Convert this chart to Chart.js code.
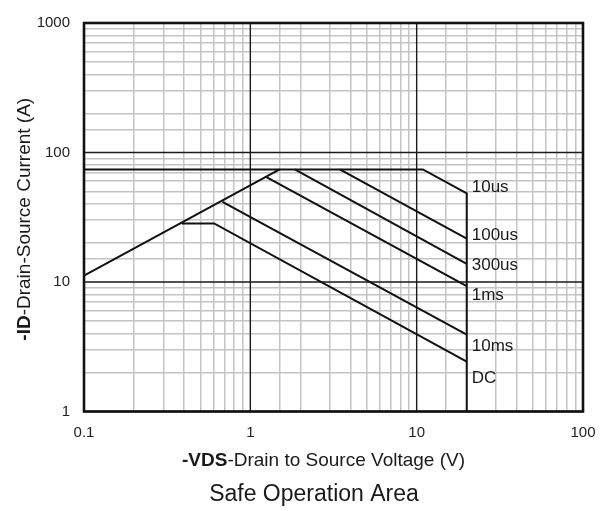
<!DOCTYPE html>
<html>
<head>
<meta charset="utf-8">
<script src="https://cdn.jsdelivr.net/npm/chart.js@4/dist/chart.umd.min.js"></script>
<style>
  html, body { margin: 0; padding: 0; background: #fff; }
  #wrap { width: 609px; height: 511px; }
</style>
</head>
<body>
<div id="wrap"><canvas id="soa" width="609" height="511"></canvas></div>
<script>
const FONT = '"Liberation Sans", Arial, sans-serif';

// axis ranges and decade labels
const xRange = [0.1, 100];
const yRange = [1, 1000];
const xTickLabels = ['0.1', '1', '10', '100'];
const yTickLabels = ['1', '10', '100', '1000'];

// SOA boundary segments as [VDS (V), ID (A)]
const idLimit    = [[0.1, 74], [10.9, 74], [20, 48.3], [20, 1]];   // current limit, 10us, VDS max
const rdsLimit   = [[0.1, 11.2], [1.5, 74]];
const pulse100us = [[3.45, 74], [20, 21.6]];
const pulse300us = [[1.85, 74], [20, 13.8]];
const pulse1ms   = [[1.25, 64.5], [20, 9.28]];
const pulse10ms  = [[0.68, 41.5], [20, 3.93]];
const dcLine     = [[0.386, 28.3], [0.606, 28.3], [20, 2.43]];

// curve names next to the 20 V edge
const curveNames  = ['10us', '100us', '300us', '1ms', '10ms', 'DC'];
const nameCurrent = [53.7, 22.8, 13.5, 7.96, 3.21, 1.80];
const nameVoltage = 20;

const isDecade = v => Math.abs(Math.log10(v) - Math.round(Math.log10(v))) < 1e-6;
const pickLabel = (list, v) => list.find(t => Math.abs(+t - v) < 1e-6 * v) ?? '';

const toXY = pts => pts.map(([x, y]) => ({ x, y }));
const curve = pts => ({
  data: toXY(pts),
  showLine: true,
  borderColor: '#111',
  borderWidth: 2,
  pointRadius: 0,
  tension: 0
});

// light minor grid; the decade lines are laid over it afterwards
const gridStyle = {
  drawTicks: false,
  color: c => isDecade(c.tick.value) ? 'rgba(0,0,0,0)' : '#c4c4c4',
  lineWidth: 1.5
};

// draws a two-part string with a bold prefix, centred on (cx, cy)
function mixedText(ctx, bold, rest, cx, cy, size) {
  ctx.font = `bold ${size}px ${FONT}`;
  const wb = ctx.measureText(bold).width;
  ctx.font = `${size}px ${FONT}`;
  const wr = ctx.measureText(rest).width;
  const x0 = cx - (wb + wr) / 2;
  ctx.textAlign = 'left';
  ctx.textBaseline = 'middle';
  ctx.font = `bold ${size}px ${FONT}`;
  ctx.fillText(bold, x0, cy);
  ctx.font = `${size}px ${FONT}`;
  ctx.fillText(rest, x0 + wb, cy);
}

const decorations = {
  id: 'decorations',
  beforeDatasetsDraw(chart) {
    const { ctx, chartArea: a, scales } = chart;
    ctx.save();
    ctx.strokeStyle = '#1a1a1a';
    ctx.lineWidth = 1.4;
    ctx.beginPath();
    scales.x.ticks.filter(t => isDecade(t.value)).forEach(t => {
      const px = scales.x.getPixelForValue(t.value);
      ctx.moveTo(px, a.top);
      ctx.lineTo(px, a.bottom);
    });
    scales.y.ticks.filter(t => isDecade(t.value)).forEach(t => {
      const py = scales.y.getPixelForValue(t.value);
      ctx.moveTo(a.left, py);
      ctx.lineTo(a.right, py);
    });
    ctx.stroke();
    ctx.restore();
  },
  afterDraw(chart) {
    const { ctx, chartArea: a, scales } = chart;
    ctx.save();

    // heavy frame round the plot
    ctx.strokeStyle = '#111';
    ctx.lineWidth = 2.6;
    ctx.strokeRect(a.left, a.top, a.right - a.left, a.bottom - a.top);

    // curve names
    ctx.fillStyle = '#1a1a1a';
    ctx.font = `17px ${FONT}`;
    ctx.textAlign = 'left';
    ctx.textBaseline = 'middle';
    const nx = scales.x.getPixelForValue(nameVoltage) + 5;
    curveNames.forEach((name, i) => {
      ctx.fillText(name, nx, scales.y.getPixelForValue(nameCurrent[i]));
    });

    // axis titles
    mixedText(ctx, '-VDS', '-Drain to Source Voltage (V)', (a.left + a.right) / 2 - 10, 461, 19);
    ctx.save();
    ctx.translate(25, (a.top + a.bottom) / 2 + 2);
    ctx.rotate(-Math.PI / 2);
    mixedText(ctx, '-ID', '-Drain-Source Current (A)', 0, 0, 19);
    ctx.restore();

    // caption
    ctx.font = `23px ${FONT}`;
    ctx.textAlign = 'center';
    ctx.textBaseline = 'middle';
    ctx.fillText('Safe Operation Area', 314, 495);
    ctx.restore();
  }
};

new Chart(document.getElementById('soa'), {
  type: 'scatter',
  data: {
    datasets: [idLimit, rdsLimit, pulse100us, pulse300us, pulse1ms, pulse10ms, dcLine].map(curve)
  },
  options: {
    responsive: false,
    devicePixelRatio: 1,
    animation: false,
    layout: { padding: { top: 17, right: 26, left: 0, bottom: 0 } },
    plugins: { legend: { display: false }, tooltip: { enabled: false } },
    scales: {
      x: {
        type: 'logarithmic',
        min: xRange[0],
        max: xRange[1],
        border: { display: false },
        grid: gridStyle,
        afterFit: s => { s.height = 99.5; },
        ticks: {
          autoSkip: false,
          maxRotation: 0,
          padding: 12,
          color: '#222',
          font: { family: FONT, size: 15 },
          callback: v => pickLabel(xTickLabels, v)
        }
      },
      y: {
        type: 'logarithmic',
        min: yRange[0],
        max: yRange[1],
        border: { display: false },
        grid: gridStyle,
        afterFit: s => { s.width = 84; },
        ticks: {
          autoSkip: false,
          padding: 14,
          color: '#222',
          font: { family: FONT, size: 15 },
          callback: v => pickLabel(yTickLabels, v)
        }
      }
    }
  },
  plugins: [decorations]
});
</script>
</body>
</html>
